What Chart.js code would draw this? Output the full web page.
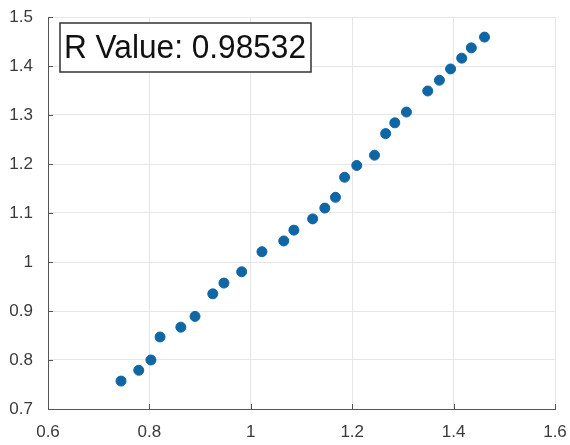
<!DOCTYPE html>
<html>
<head>
<meta charset="utf-8">
<script src="https://cdn.jsdelivr.net/npm/chart.js@4.4.0/dist/chart.umd.min.js"></script>
<style>
  html, body { margin: 0; padding: 0; background: #fff; }
  #wrap { width: 570px; height: 445px; }
</style>
</head>
<body>
<div id="wrap"><canvas id="scatter"></canvas></div>
<script>
// values
const xValues = [0.744, 0.779, 0.803, 0.821, 0.862, 0.890, 0.925, 0.947, 0.982, 1.022,
                 1.065, 1.085, 1.122, 1.146, 1.167, 1.185, 1.209, 1.244, 1.266, 1.284,
                 1.307, 1.349, 1.372, 1.394, 1.416, 1.435, 1.461];
const yValues = [0.757, 0.779, 0.800, 0.847, 0.867, 0.889, 0.935, 0.957, 0.980, 1.021,
                 1.043, 1.065, 1.088, 1.110, 1.132, 1.173, 1.197, 1.218, 1.262, 1.284,
                 1.306, 1.349, 1.371, 1.394, 1.416, 1.437, 1.459];
const xTicks = [0.6, 0.8, 1, 1.2, 1.4, 1.6];
const yTicks = [0.7, 0.8, 0.9, 1, 1.1, 1.2, 1.3, 1.4, 1.5];
const rLabel = 'R Value: 0.98532';

const points = xValues.map((x, i) => ({ x: x, y: yValues[i] }));

// MATLAB style inward ticks + the R value box
const matlabExtras = {
    id: 'matlabExtras',
    afterDraw(chart) {
        const ctx = chart.ctx;
        const area = chart.chartArea;
        const xs = chart.scales.x, ys = chart.scales.y;
        ctx.save();
        ctx.strokeStyle = '#555';
        ctx.lineWidth = 1;
        ctx.beginPath();
        xTicks.forEach(t => {
            const px = Math.round(xs.getPixelForValue(t)) + 0.5;
            ctx.moveTo(px, area.bottom);
            ctx.lineTo(px, area.bottom - 5);
        });
        yTicks.forEach(t => {
            const py = Math.round(ys.getPixelForValue(t)) + 0.5;
            ctx.moveTo(area.left, py);
            ctx.lineTo(area.left + 5, py);
        });
        ctx.stroke();

        // text box
        const bx = 60, by = 23, bw = 251, bh = 49;
        ctx.fillStyle = '#fff';
        ctx.fillRect(bx, by, bw, bh);
        ctx.strokeStyle = '#333';
        ctx.lineWidth = 1.5;
        ctx.strokeRect(bx, by, bw, bh);
        ctx.font = '34px "Liberation Sans", Arial, sans-serif';
        ctx.fillStyle = '#111';
        ctx.textBaseline = 'middle';
        const w = ctx.measureText(rLabel).width;
        ctx.translate(bx + 4, by + bh / 2 + 1);
        ctx.scale(242 / w, 1);
        ctx.fillText(rLabel, 0, 0);
        ctx.restore();
    }
};

function noOverflow(s) {
    s.paddingTop = 0;
    s.paddingBottom = 0;
    s.paddingLeft = 0;
    s.paddingRight = 0;
}

new Chart(document.getElementById('scatter'), {
    type: 'scatter',
    data: {
        datasets: [{
            data: points,
            backgroundColor: '#0f66a5',
            borderColor: '#0f66a5',
            pointRadius: 5,
            pointHoverRadius: 5
        }]
    },
    options: {
        responsive: true,
        maintainAspectRatio: false,
        animation: false,
        layout: { padding: { top: 17, right: 15, left: 0, bottom: 0 } },
        plugins: {
            legend: { display: false },
            tooltip: { enabled: false }
        },
        scales: {
            x: {
                type: 'linear',
                min: 0.6,
                max: 1.6,
                afterBuildTicks: s => { s.ticks = xTicks.map(v => ({ value: v })); },
                afterFit: s => { s.height = 36; noOverflow(s); },
                ticks: {
                    color: '#3a3a3a',
                    padding: 13,
                    font: { family: '"Liberation Sans", Arial, sans-serif', size: 17 },
                    callback: v => String(+v.toFixed(1))
                },
                grid: { color: '#e6e6e6', drawTicks: false },
                border: { color: '#555', width: 1 }
            },
            y: {
                type: 'linear',
                min: 0.7,
                max: 1.5,
                afterBuildTicks: s => { s.ticks = yTicks.map(v => ({ value: v })); },
                afterFit: s => { s.width = 48; noOverflow(s); },
                ticks: {
                    color: '#3a3a3a',
                    padding: 15,
                    font: { family: '"Liberation Sans", Arial, sans-serif', size: 17 },
                    callback: v => String(+v.toFixed(1))
                },
                grid: { color: '#e6e6e6', drawTicks: false },
                border: { color: '#555', width: 1 }
            }
        }
    },
    plugins: [matlabExtras]
});
</script>
</body>
</html>
